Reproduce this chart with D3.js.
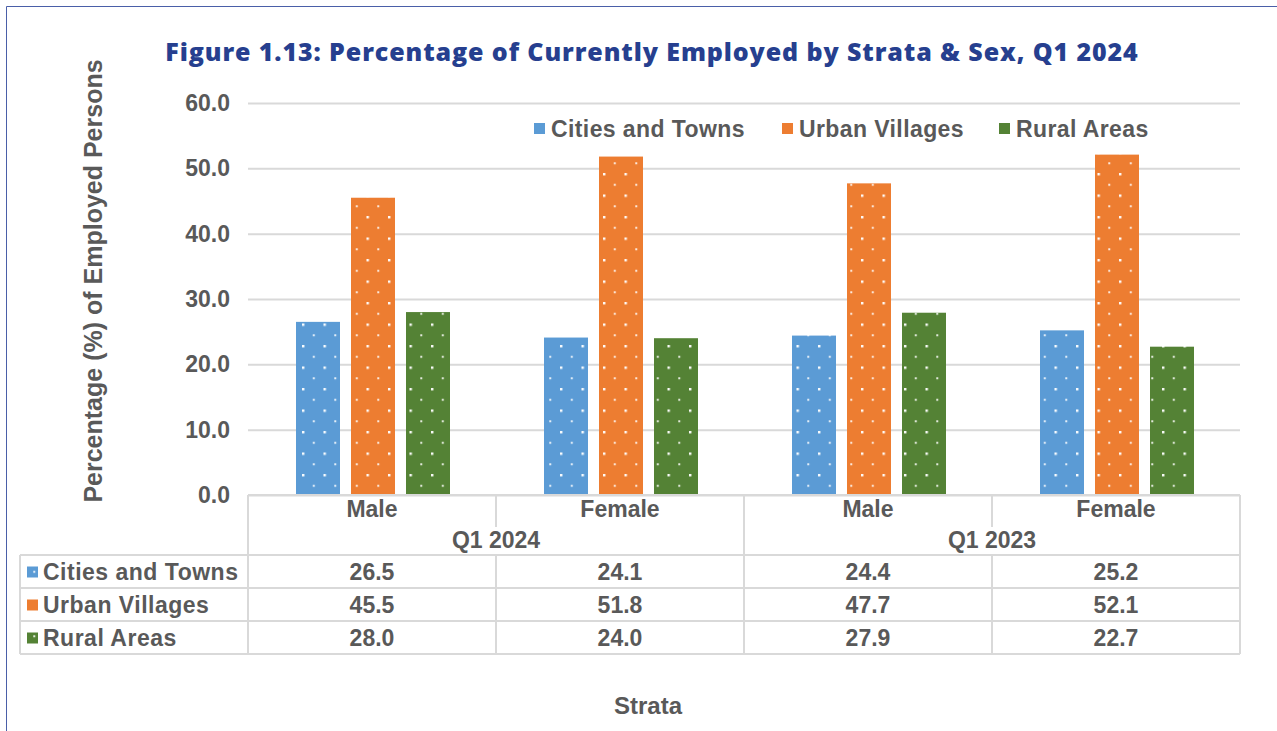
<!DOCTYPE html>
<html>
<head>
<meta charset="utf-8">
<script src="https://cdn.jsdelivr.net/npm/d3@7"></script>
<style>
  body { margin: 0; background: #fff; }
  text { font-family: "Liberation Sans", Arial, sans-serif; }
</style>
</head>
<body>
<script>
// data
var quarters = ["Q1 2024", "Q1 2023"];
var sexes = ["Male", "Female"];
var series = ["Cities and Towns", "Urban Villages", "Rural Areas"];
var citiesTowns = [26.5, 24.1, 24.4, 25.2];
var urbanVillages = [45.5, 51.8, 47.7, 52.1];
var ruralAreas = [28.0, 24.0, 27.9, 22.7];
var yTicks = [0, 10, 20, 30, 40, 50, 60];

var colors = ["#5b9bd5", "#ed7d31", "#548235"];
var values = [citiesTowns, urbanVillages, ruralAreas];
var textCol = "#595959";
var lineCol = "#d9d9d9";
var fs = "23px";

var W = 1277, H = 731;
var plotL = 248, plotR = 1240, plotT = 103, plotB = 495;

var cats = [];
quarters.forEach(function(q){ sexes.forEach(function(s){ cats.push(q + "|" + s); }); });

var svg = d3.select("body").append("svg")
    .attr("width", W)
    .attr("height", H);

// dotted fills
var defs = svg.append("defs");
colors.forEach(function(c, i){
    var p = defs.append("pattern")
        .attr("id", "dots" + i)
        .attr("patternUnits", "userSpaceOnUse")
        .attr("width", 21.5)
        .attr("height", 21.5);
    p.append("rect").attr("width", 21.5).attr("height", 21.5).attr("fill", c);
    p.append("rect").attr("x", 1).attr("y", 1).attr("width", 2.4).attr("height", 2.4).attr("fill", "#fff");
    p.append("rect").attr("x", 11.8).attr("y", 11.8).attr("width", 2).attr("height", 2).attr("fill", "#fff").attr("opacity", 0.85);
});

// frame (left + top)
svg.append("path")
    .attr("d", "M6.5," + H + "V6.5H" + W)
    .attr("fill", "none")
    .attr("stroke", "#4a5fa8")
    .attr("stroke-width", 1);

// title
svg.append("text")
    .attr("x", 652)
    .attr("y", 61)
    .attr("text-anchor", "middle")
    .style("font-family", "'Open Sans', sans-serif")
    .style("font-weight", 800)
    .style("font-size", "25px")
    .style("letter-spacing", "0.9px")
    .attr("fill", "#263f8f")
    .text("Figure 1.13: Percentage of Currently Employed by Strata & Sex, Q1 2024");

var y = d3.scaleLinear().domain([0, 60]).range([plotB, plotT]);
var x0 = d3.scaleBand().domain(cats).range([plotL, plotR]);
var x1 = d3.scaleBand().domain(series).range([48, 202]).paddingInner(0.2).paddingOuter(0);

// y axis + gridlines
var yAxis = svg.append("g")
    .attr("transform", "translate(" + plotL + ",0)")
    .call(d3.axisLeft(y).tickValues(yTicks).tickFormat(d3.format(".1f"))
        .tickSize(-(plotR - plotL)).tickPadding(18));
yAxis.select(".domain").remove();
yAxis.selectAll(".tick line").attr("stroke", lineCol).attr("stroke-width", 2);
yAxis.selectAll(".tick text")
    .attr("fill", textCol)
    .style("font-size", fs)
    .style("font-weight", "bold")
    .style("font-family", "'Liberation Sans', Arial, sans-serif");

// bars
series.forEach(function(s, si){
    svg.append("g").selectAll("rect")
        .data(values[si])
        .join("rect")
        .attr("x", function(d, i){ return x0(cats[i]) + x1(s); })
        .attr("y", function(d){ return y(d); })
        .attr("width", x1.bandwidth())
        .attr("height", function(d){ return y(0) - y(d); })
        .attr("fill", "url(#dots" + si + ")");
});

// legend
var legX = [551, 799, 1016];
series.forEach(function(s, i){
    var g = svg.append("g").attr("transform", "translate(" + legX[i] + ",129)");
    g.append("rect").attr("x", -17).attr("y", -6).attr("width", 11).attr("height", 11)
        .attr("fill", "url(#dots" + i + ")");
    g.append("text").attr("x", 0).attr("y", 8)
        .attr("fill", textCol)
        .style("font-size", fs).style("font-weight", "bold").style("letter-spacing", "0.4px")
        .text(s);
});

// data table
var tbl = svg.append("g");
var tableL = 20;
var rowY = [555, 588, 621, 654];
function hline(xa, xb, yy){
    tbl.append("line").attr("x1", xa).attr("x2", xb).attr("y1", yy).attr("y2", yy)
        .attr("stroke", lineCol).attr("stroke-width", 2);
}
function vline(xx, ya, yb){
    tbl.append("line").attr("x1", xx).attr("x2", xx).attr("y1", ya).attr("y2", yb)
        .attr("stroke", lineCol).attr("stroke-width", 2);
}
hline(plotL, plotR, plotB);
rowY.forEach(function(yy){ hline(tableL, plotR, yy); });
vline(tableL, rowY[0], rowY[3]);
cats.forEach(function(c, i){
    var xx = x0(c);
    if (i % 2 === 0) vline(xx, plotB, rowY[3]);
    else { vline(xx, plotB, 527); vline(xx, rowY[0], rowY[3]); }
});
vline(plotR, plotB, rowY[3]);

// header: sex + quarter
cats.forEach(function(c, i){
    tbl.append("text")
        .attr("x", x0(c) + x0.bandwidth() / 2)
        .attr("y", 517)
        .attr("text-anchor", "middle")
        .attr("fill", textCol)
        .style("font-size", fs).style("font-weight", "bold")
        .text(sexes[i % 2]);
});
quarters.forEach(function(q, qi){
    tbl.append("text")
        .attr("x", x0(cats[qi * 2 + 1]))
        .attr("y", 548)
        .attr("text-anchor", "middle")
        .attr("fill", textCol)
        .style("font-size", fs).style("font-weight", "bold")
        .text(q);
});

// rows
series.forEach(function(s, si){
    var cy = (rowY[si] + rowY[si + 1]) / 2;
    tbl.append("rect").attr("x", 27).attr("y", cy - 5).attr("width", 11).attr("height", 11)
        .attr("fill", "url(#dots" + si + ")");
    tbl.append("text").attr("x", 43).attr("y", cy + 8)
        .attr("fill", textCol)
        .style("font-size", fs).style("font-weight", "bold").style("letter-spacing", "0.5px")
        .text(s);
    values[si].forEach(function(v, i){
        tbl.append("text")
            .attr("x", x0(cats[i]) + x0.bandwidth() / 2)
            .attr("y", cy + 8)
            .attr("text-anchor", "middle")
            .attr("fill", textCol)
            .style("font-size", fs).style("font-weight", "bold")
            .text(d3.format(".1f")(v));
    });
});

// axis titles
svg.append("text")
    .attr("x", 648)
    .attr("y", 714)
    .attr("text-anchor", "middle")
    .attr("fill", textCol)
    .style("font-size", "24px").style("font-weight", "bold")
    .text("Strata");

svg.append("text")
    .attr("transform", "translate(102,281) rotate(-90)")
    .attr("text-anchor", "middle")
    .attr("fill", textCol)
    .style("font-size", "25px").style("font-weight", "bold")
    .text("Percentage (%) of Employed Persons");
</script>
</body>
</html>
